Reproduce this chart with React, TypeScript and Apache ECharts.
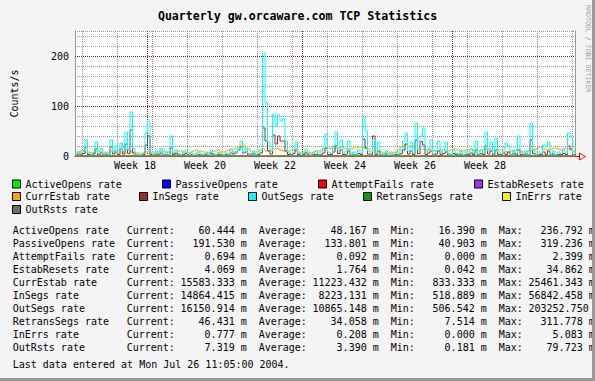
import React, { useEffect, useRef } from 'react';
import * as echarts from 'echarts';

const FONT = '"DejaVu Sans Mono", monospace';

// ---- series (names, colours) ----
const seriesNames = [
  'ActiveOpens rate', 'PassiveOpens rate', 'AttemptFails rate', 'EstabResets rate',
  'CurrEstab rate', 'InSegs rate', 'OutSegs rate', 'RetransSegs rate', 'InErrs rate', 'OutRsts rate',
];
const seriesColors = [
  '#00ee00', '#0000ff', '#ff0000', '#a030f0', '#ffa500',
  '#a52a2a', '#00ffff', '#00a000', '#f0f000', '#6e6e6e',
];

// ---- dense series, one value every half day (counts/s) ----
const halfDayStep = 0.5;
const outSegs = [
  4, 8, 6, 10, 32, 6, 3, 8, 28, 5,
  15, 4, 6, 3, 32, 8, 20, 6, 26, 10,
  48, 12, 88, 15, 4, 4, 3, 6, 46, 70,
  6, 3, 10, 5, 15, 4, 8, 3, 40, 6,
  12, 5, 3, 8, 12, 4, 6, 2, 5, 8,
  4, 3, 6, 2, 12, 5, 3, 7, 4, 2,
  6, 3, 12, 8, 5, 14, 30, 8, 15, 5,
  4, 10, 3, 6, 12, 206, 106, 28, 10, 84,
  60, 82, 70, 76, 30, 8, 4, 12, 28, 6,
  3, 8, 14, 5, 2, 6, 10, 4, 8, 15,
  44, 8, 5, 20, 48, 12, 32, 6, 10, 30,
  4, 8, 3, 12, 6, 78, 50, 10, 8, 34,
  6, 28, 4, 3, 10, 2, 5, 3, 8, 4,
  12, 30, 46, 10, 28, 6, 66, 12, 40, 56,
  8, 14, 32, 4, 10, 29, 6, 12, 28, 5,
  3, 12, 6, 4, 10, 2, 8, 5, 14, 6,
  30, 4, 12, 6, 48, 10, 28, 5, 36, 8,
  4, 14, 26, 20, 3, 12, 5, 40, 8, 4,
  10, 3, 66, 12, 4, 8, 5, 22, 19, 28,
  4, 10, 3, 8, 5, 12, 6, 46, 38, 4,
  10,
];
const inSegs = [
  2, 4, 3, 5, 18, 3, 1, 4, 14, 2,
  6, 2, 3, 1, 18, 4, 8, 3, 14, 4,
  24, 5, 52, 6, 2, 1, 1, 3, 22, 40,
  3, 1, 4, 2, 6, 2, 3, 1, 16, 3,
  5, 2, 1, 3, 5, 2, 3, 1, 2, 3,
  2, 1, 3, 1, 5, 2, 1, 3, 2, 1,
  3, 1, 6, 4, 8, 12, 18, 6, 8, 2,
  2, 5, 1, 3, 6, 56, 30, 10, 4, 42,
  24, 40, 30, 30, 10, 3, 2, 5, 12, 3,
  1, 3, 6, 2, 1, 3, 4, 2, 3, 6,
  16, 3, 2, 8, 20, 5, 12, 3, 4, 10,
  2, 3, 1, 5, 3, 34, 16, 4, 3, 40,
  3, 10, 2, 1, 4, 1, 2, 1, 3, 2,
  5, 12, 24, 4, 10, 3, 32, 5, 29, 22,
  3, 6, 10, 2, 4, 10, 3, 5, 8, 2,
  1, 5, 3, 2, 4, 1, 3, 2, 6, 3,
  12, 2, 5, 3, 20, 4, 10, 2, 12, 3,
  2, 6, 3, 8, 1, 5, 2, 12, 3, 2,
  4, 1, 32, 5, 2, 3, 2, 8, 3, 10,
  2, 4, 1, 3, 2, 5, 3, 20, 14, 2,
  4,
];
const currEstab = [
  8, 8, 10, 10, 8, 8, 6, 6, 10, 10,
  8, 8, 6, 6, 10, 10, 12, 12, 8, 8,
  12, 12, 8, 8, 6, 6, 4, 6, 8, 10,
  6, 6, 8, 8, 10, 10, 8, 8, 6, 6,
  8, 10, 10, 8, 6, 6, 8, 10, 12, 10,
  10, 8, 8, 6, 8, 10, 10, 12, 8, 8,
  10, 12, 14, 14, 16, 18, 20, 22, 16, 14,
  10, 8, 8, 10, 12, 14, 10, 10, 12, 14,
  16, 14, 12, 10, 8, 10, 12, 14, 10, 8,
  6, 6, 8, 8, 6, 8, 10, 10, 12, 14,
  16, 16, 14, 14, 16, 16, 18, 16, 14, 12,
  14, 16, 16, 18, 18, 16, 16, 14, 14, 12,
  10, 8, 8, 6, 6, 6, 8, 6, 8, 12,
  18, 22, 22, 20, 18, 18, 20, 16, 14, 14,
  12, 12, 14, 12, 10, 10, 12, 12, 10, 10,
  12, 14, 14, 12, 10, 10, 12, 12, 14, 12,
  10, 10, 12, 12, 14, 14, 12, 10, 10, 12,
  12, 10, 8, 8, 10, 10, 12, 12, 10, 8,
  8, 10, 10, 12, 14, 16, 16, 14, 12, 12,
  14, 16, 16, 14, 12, 14, 16, 14, 12, 10,
  12,
];

// ---- near-zero series, one value every five days ----
const fiveDayStep = 5;
const activeOpens = [0.05, 0.04, 0.06, 0.03, 0.05, 0.08, 0.04, 0.05, 0.03, 0.06, 0.04, 0.05, 0.07, 0.04, 0.05, 0.03, 0.06, 0.04, 0.05, 0.04, 0.06];
const passiveOpens = [0.13, 0.12, 0.15, 0.11, 0.14, 0.2, 0.12, 0.13, 0.1, 0.15, 0.13, 0.14, 0.16, 0.12, 0.13, 0.11, 0.15, 0.12, 0.14, 0.13, 0.19];
const attemptFails = [0, 0, 0, 0, 0, 0, 0, 0, 0, 0, 0, 0, 0, 0, 0, 0, 0, 0, 0, 0, 0];
const estabResets = [0.002, 0.001, 0.003, 0.001, 0.002, 0.004, 0.001, 0.002, 0.001, 0.002, 0.001, 0.002, 0.003, 0.001, 0.002, 0.001, 0.002, 0.001, 0.002, 0.001, 0.004];
const retransSegs = [0.03, 0.04, 0.03, 0.02, 0.04, 0.06, 0.03, 0.04, 0.02, 0.03, 0.04, 0.03, 0.05, 0.03, 0.04, 0.02, 0.03, 0.04, 0.03, 0.03, 0.05];
const inErrs = [0, 0, 0, 0, 0, 0, 0, 0, 0, 0, 0, 0, 0, 0, 0, 0, 0, 0, 0, 0, 0.001];
const outRsts = [0.003, 0.002, 0.004, 0.003, 0.003, 0.005, 0.002, 0.003, 0.002, 0.004, 0.003, 0.003, 0.004, 0.002, 0.003, 0.002, 0.004, 0.003, 0.003, 0.002, 0.007];

// ---- axes / grid ticks (days from start of graph) ----
const xMax = 100;
const yMax = 250;
const yMinorStep = 20;
const yMajor = [100, 200];
const weekLineDays = [1.5, 8.5, 15.5, 22.5, 29.5, 36.5, 43.5, 50.5, 57.5, 64.5, 71.5, 78.5, 85.5, 92.5, 99.5];
const monthLineDays = [14.5, 45.5, 75.5];
const weekLabelDays = [12, 26, 40, 54, 68, 82];
const weekLabelNums = [18, 20, 22, 24, 26, 28];

// ---- statistics table ----
const currentVals = [60.444, 191.53, 0.694, 4.069, 15583.333, 14864.415, 16150.914, 46.431, 0.777, 7.319];
const averageVals = [48.167, 133.801, 0.092, 1.764, 11223.432, 8223.131, 10865.148, 34.058, 0.208, 3.39];
const minVals = [16.39, 40.903, 0.0, 0.042, 833.333, 518.889, 506.542, 7.514, 0.0, 0.181];
const maxVals = [236.792, 319.236, 2.399, 34.862, 25461.343, 56842.458, 203252.75, 311.778, 5.083, 79.723];
const lastUpdate = 'Last data entered at Mon Jul 26 11:05:00 2004.';
const titleText = 'Quarterly gw.orcaware.com TCP Statistics';

// ---- layout (not data) ----
const legendLeft = [12, 162, 318, 474, 12, 139, 248, 363, 502, 12];
const legendTop = [178, 178, 178, 178, 190.5, 190.5, 190.5, 190.5, 190.5, 203.5];

const toPairs = (arr: number[], step: number) => arr.map((v, i) => [i * step, v]);

const seriesData: number[][][] = [
  toPairs(activeOpens, fiveDayStep),
  toPairs(passiveOpens, fiveDayStep),
  toPairs(attemptFails, fiveDayStep),
  toPairs(estabResets, fiveDayStep),
  toPairs(currEstab, halfDayStep),
  toPairs(inSegs, halfDayStep),
  toPairs(outSegs, halfDayStep),
  toPairs(retransSegs, fiveDayStep),
  toPairs(inErrs, fiveDayStep),
  toPairs(outRsts, fiveDayStep),
];

function txt(text: string, x: number, y: number, align: string, extra: any = {}) {
  return {
    type: 'text',
    x,
    y,
    silent: true,
    z: 10,
    style: {
      text,
      fontFamily: FONT,
      fontSize: 10,
      fill: '#000',
      align,
      verticalAlign: 'middle',
      textAlign: align,
      textVerticalAlign: 'middle',
      ...extra,
    },
  };
}

function buildStats() {
  const colX = (c: number) => 12.7 + 6 * c;
  const els: any[] = [];
  const field = (v: number, start: number, y: number) => {
    const s = v.toFixed(3);
    const L = Math.max(9, s.length);
    els.push(txt(s, colX(start + L), y, 'right'));
    const ux = colX(start + L + 1);
    if (ux < 592) els.push(txt('m', ux, y, 'left'));
  };
  seriesNames.forEach((name, k) => {
    const y = 230.8 + 12.95 * k;
    els.push(txt(name, colX(0), y, 'left'));
    els.push(txt('Current:', colX(19), y, 'left'));
    field(currentVals[k], 28, y);
    els.push(txt('Average:', colX(41), y, 'left'));
    field(averageVals[k], 50, y);
    els.push(txt('Min:', colX(63), y, 'left'));
    field(minVals[k], 68, y);
    els.push(txt('Max:', colX(81), y, 'left'));
    field(maxVals[k], 86, y);
  });
  els.push(txt(lastUpdate, colX(0), 364.3, 'left'));
  return els;
}

export default function App() {
  const ref = useRef<HTMLDivElement>(null);
  useEffect(() => {
    if (!ref.current) return;
    const chart = echarts.init(ref.current, null, { renderer: 'svg' });
    const gridLineStyle = { color: '#999', width: 1, type: [1, 1] };
    const majorLineStyle = { color: '#8a1a1a', width: 1, type: [1, 1] };
    const option: any = {
      animation: false,
      backgroundColor: '#f4f4f4',
      title: {
        text: titleText,
        left: 'center',
        top: 9,
        padding: 0,
        textStyle: { fontFamily: FONT, fontSize: 11.6, fontWeight: 'bold', color: '#000', lineHeight: 13 },
      },
      legend: seriesNames.map((name, k) => ({
        data: [name],
        left: legendLeft[k],
        top: legendTop[k],
        padding: 0,
        itemWidth: 8,
        itemHeight: 8,
        itemGap: 0,
        icon: 'rect',
        itemStyle: { borderColor: '#000', borderWidth: 1 },
        textStyle: { fontFamily: FONT, fontSize: 10, color: '#000', lineHeight: 12 },
      })),
      grid: {
        left: 75,
        top: 31,
        width: 500,
        height: 125,
        show: true,
        backgroundColor: '#ffffff',
        borderWidth: 0,
      },
      xAxis: {
        type: 'value',
        min: 0,
        max: xMax,
        axisLine: { show: true, lineStyle: { color: '#8a1a1a', width: 1 } },
        axisTick: { show: false },
        splitLine: { show: false },
        axisLabel: {
          customValues: weekLabelDays,
          margin: 4,
          fontFamily: FONT,
          fontSize: 10,
          color: '#000',
          formatter: (v: number) => {
            const j = weekLabelDays.findIndex((d) => Math.abs(d - v) < 1e-6);
            return j >= 0 ? 'Week ' + weekLabelNums[j] : '';
          },
        },
      },
      yAxis: [
        {
          type: 'value',
          min: 0,
          max: yMax,
          interval: yMinorStep,
          name: 'Counts/s',
          nameLocation: 'middle',
          nameGap: 56,
          nameTextStyle: { fontFamily: FONT, fontSize: 10, color: '#000' },
          axisLine: { show: true, lineStyle: { color: '#999', width: 1 } },
          axisTick: { show: false },
          splitLine: { show: true, lineStyle: gridLineStyle },
          axisLabel: {
            margin: 6,
            fontFamily: FONT,
            fontSize: 10,
            color: '#000',
            formatter: (v: number) => (yMajor.indexOf(v) >= 0 || v === 0 ? String(v) : ''),
          },
        },
        {
          type: 'value',
          min: 0,
          max: yMax,
          position: 'right',
          axisLine: { show: true, lineStyle: { color: '#999', width: 1 } },
          axisTick: { show: false },
          axisLabel: { show: false },
          splitLine: { show: false },
        },
      ],
      series: [
        {
          name: 'grid',
          type: 'line',
          data: [],
          z: 1,
          silent: true,
          markLine: {
            z: 1,
            silent: true,
            symbol: ['none', 'none'],
            label: { show: false },
            emphasis: { disabled: true },
            data: [
              ...weekLineDays.map((d) => ({ xAxis: d, lineStyle: gridLineStyle })),
              ...monthLineDays.map((d) => ({ xAxis: d, lineStyle: majorLineStyle })),
              ...yMajor.map((v) => ({ yAxis: v, lineStyle: majorLineStyle })),
            ],
          },
        },
        ...seriesNames.map((name, k) => ({
          name,
          type: 'line',
          step: 'end',
          showSymbol: false,
          symbol: 'none',
          z: 2 + k * 0.01,
          color: seriesColors[k],
          lineStyle: { width: 1, color: seriesColors[k] },
          emphasis: { disabled: true },
          data: seriesData[k],
        })),
      ],
      graphic: [
        {
          type: 'polyline',
          silent: true,
          z: 10,
          shape: { points: [[575, 156.5], [579, 156.5]] },
          style: { stroke: '#ff0000', lineWidth: 1, fill: null },
        },
        {
          type: 'polygon',
          silent: true,
          z: 10,
          shape: { points: [[579.5, 153], [585.5, 156.5], [579.5, 160]] },
          style: { stroke: '#ff0000', lineWidth: 1, fill: '#f4f4f4' },
        },
        {
          type: 'text',
          x: 587.5,
          y: 5,
          rotation: -Math.PI / 2,
          silent: true,
          style: {
            text: 'RRDTOOL / TOBI OETIKER',
            fontFamily: FONT,
            fontSize: 6.6,
            fill: '#9a9a9a',
            align: 'left',
            verticalAlign: 'middle',
            textAlign: 'left',
            textVerticalAlign: 'middle',
          },
        },
        ...buildStats(),
        {
          type: 'rect',
          silent: true,
          z: 20,
          shape: { x: 592, y: 0, width: 3, height: 381 },
          style: { fill: '#9a9a9a' },
        },
        {
          type: 'rect',
          silent: true,
          z: 20,
          shape: { x: 0, y: 378, width: 595, height: 3 },
          style: { fill: '#9a9a9a' },
        },
      ],
    };
    chart.setOption(option);
    return () => chart.dispose();
  }, []);
  return <div ref={ref} style={{ position: 'absolute', left: 0, top: 0, width: 595, height: 381 }} />;
}
